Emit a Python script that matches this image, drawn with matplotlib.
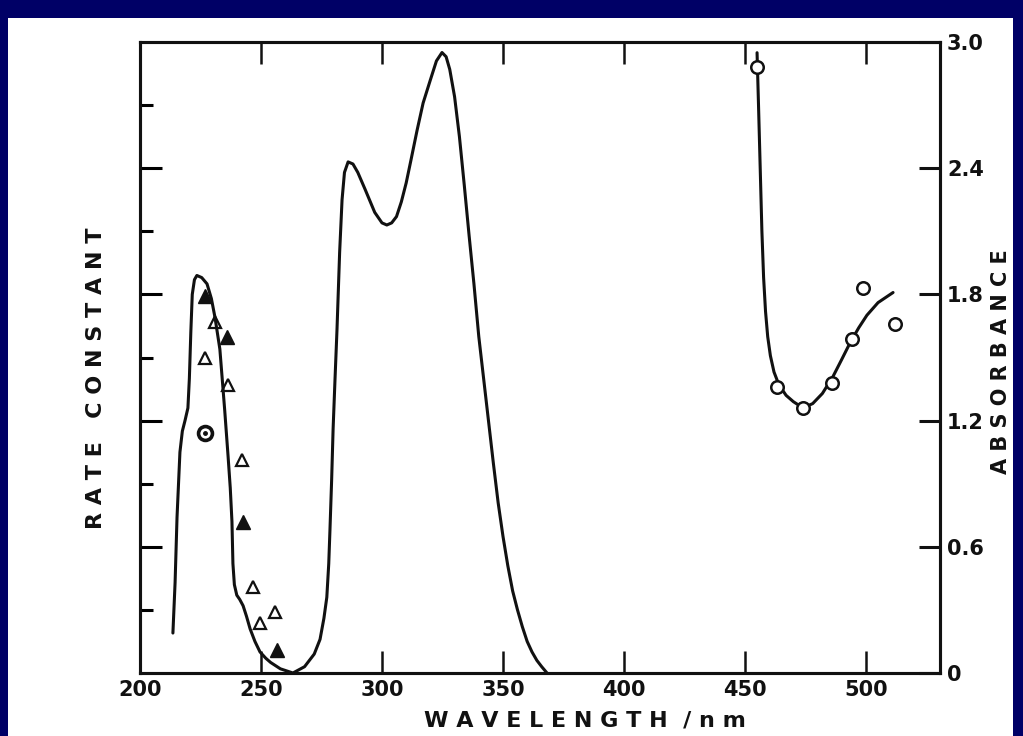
import numpy as np
import matplotlib
matplotlib.use("Agg")
import matplotlib.pyplot as plt
from matplotlib.patches import Rectangle

plt.rcParams["font.family"] = "DejaVu Sans"

# absorbance spectrum (right axis)
abs_wl = [213.6, 214.5, 215.3, 216.5, 217.5, 218.6, 219.8, 220.4, 221.0, 221.6,
          222.5, 223.5, 225.5, 227.7, 229.5, 231.0, 233.0, 235.0, 236.4, 237.3,
          238.0, 238.4, 239.0, 240.0, 241.2, 242.6, 244.0, 245.5, 247.5, 249.6,
          252.0, 254.0, 258.0, 263.2, 268.0, 272.0, 274.4, 276.0, 277.2, 278.0,
          278.5, 279.2, 279.8, 280.6, 281.4, 282.5, 283.5, 284.5, 286.0, 288.0,
          290.0, 293.0, 297.0, 300.0, 302.0, 304.0, 306.0, 308.0, 310.0, 312.0,
          314.5, 317.0, 320.0, 322.5, 324.8, 326.5, 328.0, 330.0, 332.0, 334.0,
          336.0, 338.0, 340.0, 342.0, 344.0, 346.0, 348.0, 350.0, 352.0, 354.0,
          356.0, 358.0, 360.0, 362.0, 364.0, 366.0, 368.2]
abs_val = [0.19, 0.43, 0.74, 1.05, 1.15, 1.20, 1.26, 1.40, 1.62, 1.80,
           1.87, 1.89, 1.88, 1.85, 1.78, 1.69, 1.54, 1.25, 1.03, 0.88,
           0.72, 0.52, 0.42, 0.37, 0.35, 0.32, 0.27, 0.21, 0.15, 0.10,
           0.07, 0.05, 0.02, 0.00, 0.03, 0.09, 0.16, 0.26, 0.36, 0.52,
           0.68, 0.92, 1.16, 1.40, 1.63, 2.00, 2.25, 2.38, 2.43, 2.42,
           2.38, 2.30, 2.19, 2.14, 2.13, 2.14, 2.17, 2.24, 2.33, 2.44,
           2.58, 2.71, 2.82, 2.91, 2.95, 2.93, 2.87, 2.74, 2.55, 2.32,
           2.08, 1.85, 1.60, 1.40, 1.20, 1.00, 0.81, 0.65, 0.51, 0.39,
           0.30, 0.22, 0.15, 0.10, 0.06, 0.03, 0.00]

# rate constant trend line (left axis, arbitrary units)
fit_wl = [455.0, 455.6, 456.3, 457.0, 457.7, 458.5, 459.4, 460.5, 462.0, 464.0,
          467.0, 470.0, 474.0, 478.0, 482.0, 486.4, 490.0, 493.4, 497.0, 500.4,
          505.0, 511.2]
fit_k = [9.83, 9.00, 8.00, 7.00, 6.27, 5.73, 5.33, 5.03, 4.77, 4.57,
         4.40, 4.30, 4.20, 4.27, 4.43, 4.70, 4.97, 5.23, 5.47, 5.67,
         5.87, 6.03]

# rate constant points
filled_tri_wl = [226.9, 235.9, 242.6, 256.6]
filled_tri_k = [5.97, 5.33, 2.40, 0.37]
open_tri_wl = [226.9, 231.0, 236.4, 242.0, 246.7, 249.6, 255.8]
open_tri_k = [5.00, 5.57, 4.57, 3.37, 1.37, 0.80, 0.97]
ring_wl = [226.9]
ring_k = [3.80]
circ_wl = [455.0, 463.2, 474.0, 486.0, 494.2, 498.8, 512.0]
circ_k = [9.60, 4.53, 4.20, 4.60, 5.30, 6.10, 5.53]

xticks = [200, 250, 300, 350, 400, 450, 500]
abs_ticks = [0, 0.6, 1.2, 1.8, 2.4, 3.0]
abs_labels = ["0", "0.6", "1.2", "1.8", "2.4", "3.0"]

fig = plt.figure(figsize=(10.23, 7.36), dpi=100)
fig.patch.set_facecolor("#000066")
fig.patches.append(Rectangle((8/1023, 0), 1005/1023, 1 - 18/736, transform=fig.transFigure,
                             facecolor="white", edgecolor="none", zorder=-5))

ax = fig.add_axes([140/1023, 1 - 673/736, 800/1023, 631/736])
ax.set_facecolor("white")
ax2 = ax.twinx()

lw = 2.2
ink = "#111111"

ax2.plot(abs_wl, abs_val, color=ink, lw=lw, solid_capstyle="round", solid_joinstyle="round")
ax.plot(fit_wl, fit_k, color=ink, lw=lw, solid_capstyle="round", solid_joinstyle="round")

ax.plot(filled_tri_wl, filled_tri_k, "^", ms=10, color=ink, mec=ink, ls="none")
ax.plot(open_tri_wl, open_tri_k, "^", ms=9, mfc="white", mec=ink, mew=1.6, ls="none")
ax.plot(ring_wl, ring_k, "o", ms=10, mfc="white", mec=ink, mew=2.6, ls="none")
ax.plot(ring_wl, ring_k, "o", ms=2.5, color=ink, ls="none")
ax.plot(circ_wl, circ_k, "o", ms=9, mfc="white", mec=ink, mew=1.8, ls="none")

ax.set_xlim(200, 530.6)
ax.set_ylim(0, 10)
ax2.set_ylim(0, 3.0)

for a in (ax, ax2):
    for s in a.spines.values():
        s.set_linewidth(2.2)
        s.set_color(ink)

ax.set_xticks(xticks)
ax.set_xticklabels([str(x) for x in xticks], fontsize=15, fontweight="bold")
ax.tick_params(axis="x", direction="in", length=16, width=1.8, pad=5,
               top=True, colors=ink)
ax.set_yticks([2, 4, 6, 8])
ax.set_yticks([1, 3, 5, 7, 9], minor=True)
ax.set_yticklabels([])
ax.tick_params(axis="y", which="major", direction="in", length=16, width=2.2)
ax.tick_params(axis="y", which="minor", direction="in", length=9, width=2.2)

ax2.set_yticks(abs_ticks)
ax2.set_yticklabels(abs_labels, fontsize=15, fontweight="bold")
ax2.tick_params(axis="y", direction="in", length=15, width=2.2, pad=5, colors=ink)

fig.text(96/1023, 1 - 378/736, "R A T E   C O N S T A N T", rotation=90,
         ha="center", va="center", fontsize=16, fontweight="bold", color=ink)
fig.text(1001/1023, 1 - 362/736, "A B S O R B A N C E", rotation=90,
         ha="center", va="center", fontsize=15, fontweight="bold", color=ink)
fig.text(585/1023, 1 - 721/736, "W A V E L E N G T H  / n m",
         ha="center", va="center", fontsize=16, fontweight="bold", color=ink)

fig.savefig("out.png", dpi=100, facecolor=fig.get_facecolor())
